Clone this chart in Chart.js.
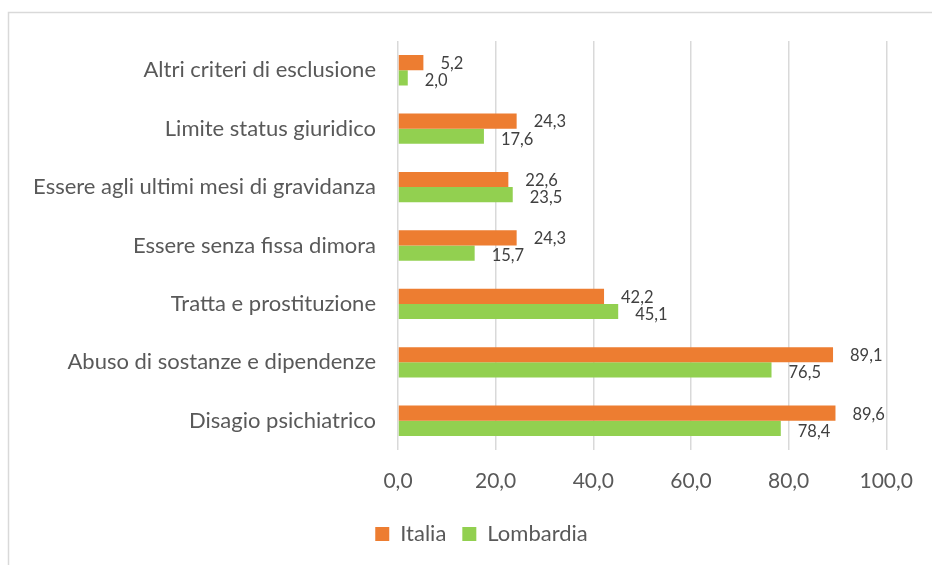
<!DOCTYPE html>
<html>
<head>
<meta charset="utf-8">
<script src="https://cdn.jsdelivr.net/npm/chart.js@4.4.1/dist/chart.umd.min.js"></script>
<style>
  html, body { margin: 0; padding: 0; background: #ffffff; }
  #wrap { width: 932px; height: 565px; position: relative; }
</style>
</head>
<body>
<div id="wrap"><canvas id="c" width="932" height="565"></canvas></div>
<script>
const categories = [
  "Altri criteri di esclusione",
  "Limite status giuridico",
  "Essere agli ultimi mesi di gravidanza",
  "Essere senza fissa dimora",
  "Tratta e prostituzione",
  "Abuso di sostanze e dipendenze",
  "Disagio psichiatrico"
];
const italia = [5.2, 24.3, 22.6, 24.3, 42.2, 89.1, 89.6];
const lombardia = [2.0, 17.6, 23.5, 15.7, 45.1, 76.5, 78.4];
const seriesNames = ["Italia", "Lombardia"];
const xMin = 0, xMax = 100, xStep = 20;

const FONT = "Lato, 'Open Sans', sans-serif";
const fmt = v => v.toFixed(1).replace('.', ',');

const framePlugin = {
  id: 'frame',
  beforeDraw(chart) {
    const ctx = chart.ctx;
    ctx.save();
    ctx.fillStyle = '#ffffff';
    ctx.fillRect(0, 0, chart.width, chart.height);
    ctx.strokeStyle = '#d9d9d9';
    ctx.lineWidth = 1.5;
    ctx.beginPath();
    ctx.moveTo(8.5, chart.height);
    ctx.lineTo(8.5, 12.5);
    ctx.lineTo(chart.width, 12.5);
    ctx.stroke();
    ctx.restore();
  }
};

const labelPlugin = {
  id: 'valueLabels',
  afterDatasetsDraw(chart) {
    const ctx = chart.ctx;
    ctx.save();
    ctx.font = "16.5px " + FONT;
    ctx.fillStyle = '#404040';
    ctx.textAlign = 'left';
    ctx.textBaseline = 'middle';
    chart.data.datasets.forEach((ds, di) => {
      const meta = chart.getDatasetMeta(di);
      meta.data.forEach((bar, i) => {
        const dy = di === 0 ? 1 : 3;
        ctx.fillText(fmt(ds.data[i]), bar.x + 17, bar.y + dy);
      });
    });
    ctx.restore();
  }
};

// shift the legend so it is centred like in the reference
const legendShift = {
  id: 'legendShift',
  afterLayout(chart) {
    const lg = chart.legend;
    if (lg) { lg.left += 37; lg.right += 37; }
  }
};

new Chart(document.getElementById('c'), {
  type: 'bar',
  data: {
    labels: categories,
    datasets: [
      { label: seriesNames[0], data: italia, backgroundColor: '#ED7D31' },
      { label: seriesNames[1], data: lombardia, backgroundColor: '#92D050' }
    ]
  },
  options: {
    indexAxis: 'y',
    responsive: false,
    animation: false,
    devicePixelRatio: 1,
    layout: { padding: { top: 41, right: 43, left: 0, bottom: 10 } },
    datasets: { bar: { categoryPercentage: 0.52, barPercentage: 1.0 } },
    scales: {
      x: {
        min: xMin, max: xMax,
        ticks: {
          stepSize: xStep,
          color: '#595959',
          font: { family: FONT, size: 21 },
          padding: 19,
          callback: v => fmt(v)
        },
        grid: { color: '#d9d9d9', lineWidth: 1.5, drawTicks: false },
        border: { display: false },
        afterFit: s => { s.height = 57; }
      },
      y: {
        ticks: {
          color: '#595959',
          font: { family: FONT, size: 22 },
          padding: 22
        },
        grid: { display: false, drawTicks: false },
        border: { display: false },
        afterFit: s => { s.width = 398; }
      }
    },
    plugins: {
      legend: {
        position: 'bottom',
        labels: {
          color: '#595959',
          font: { family: FONT, size: 22 },
          boxWidth: 14,
          boxHeight: 14,
          padding: 16
        }
      },
      tooltip: { enabled: false }
    }
  },
  plugins: [framePlugin, labelPlugin, legendShift]
});
</script>
</body>
</html>
